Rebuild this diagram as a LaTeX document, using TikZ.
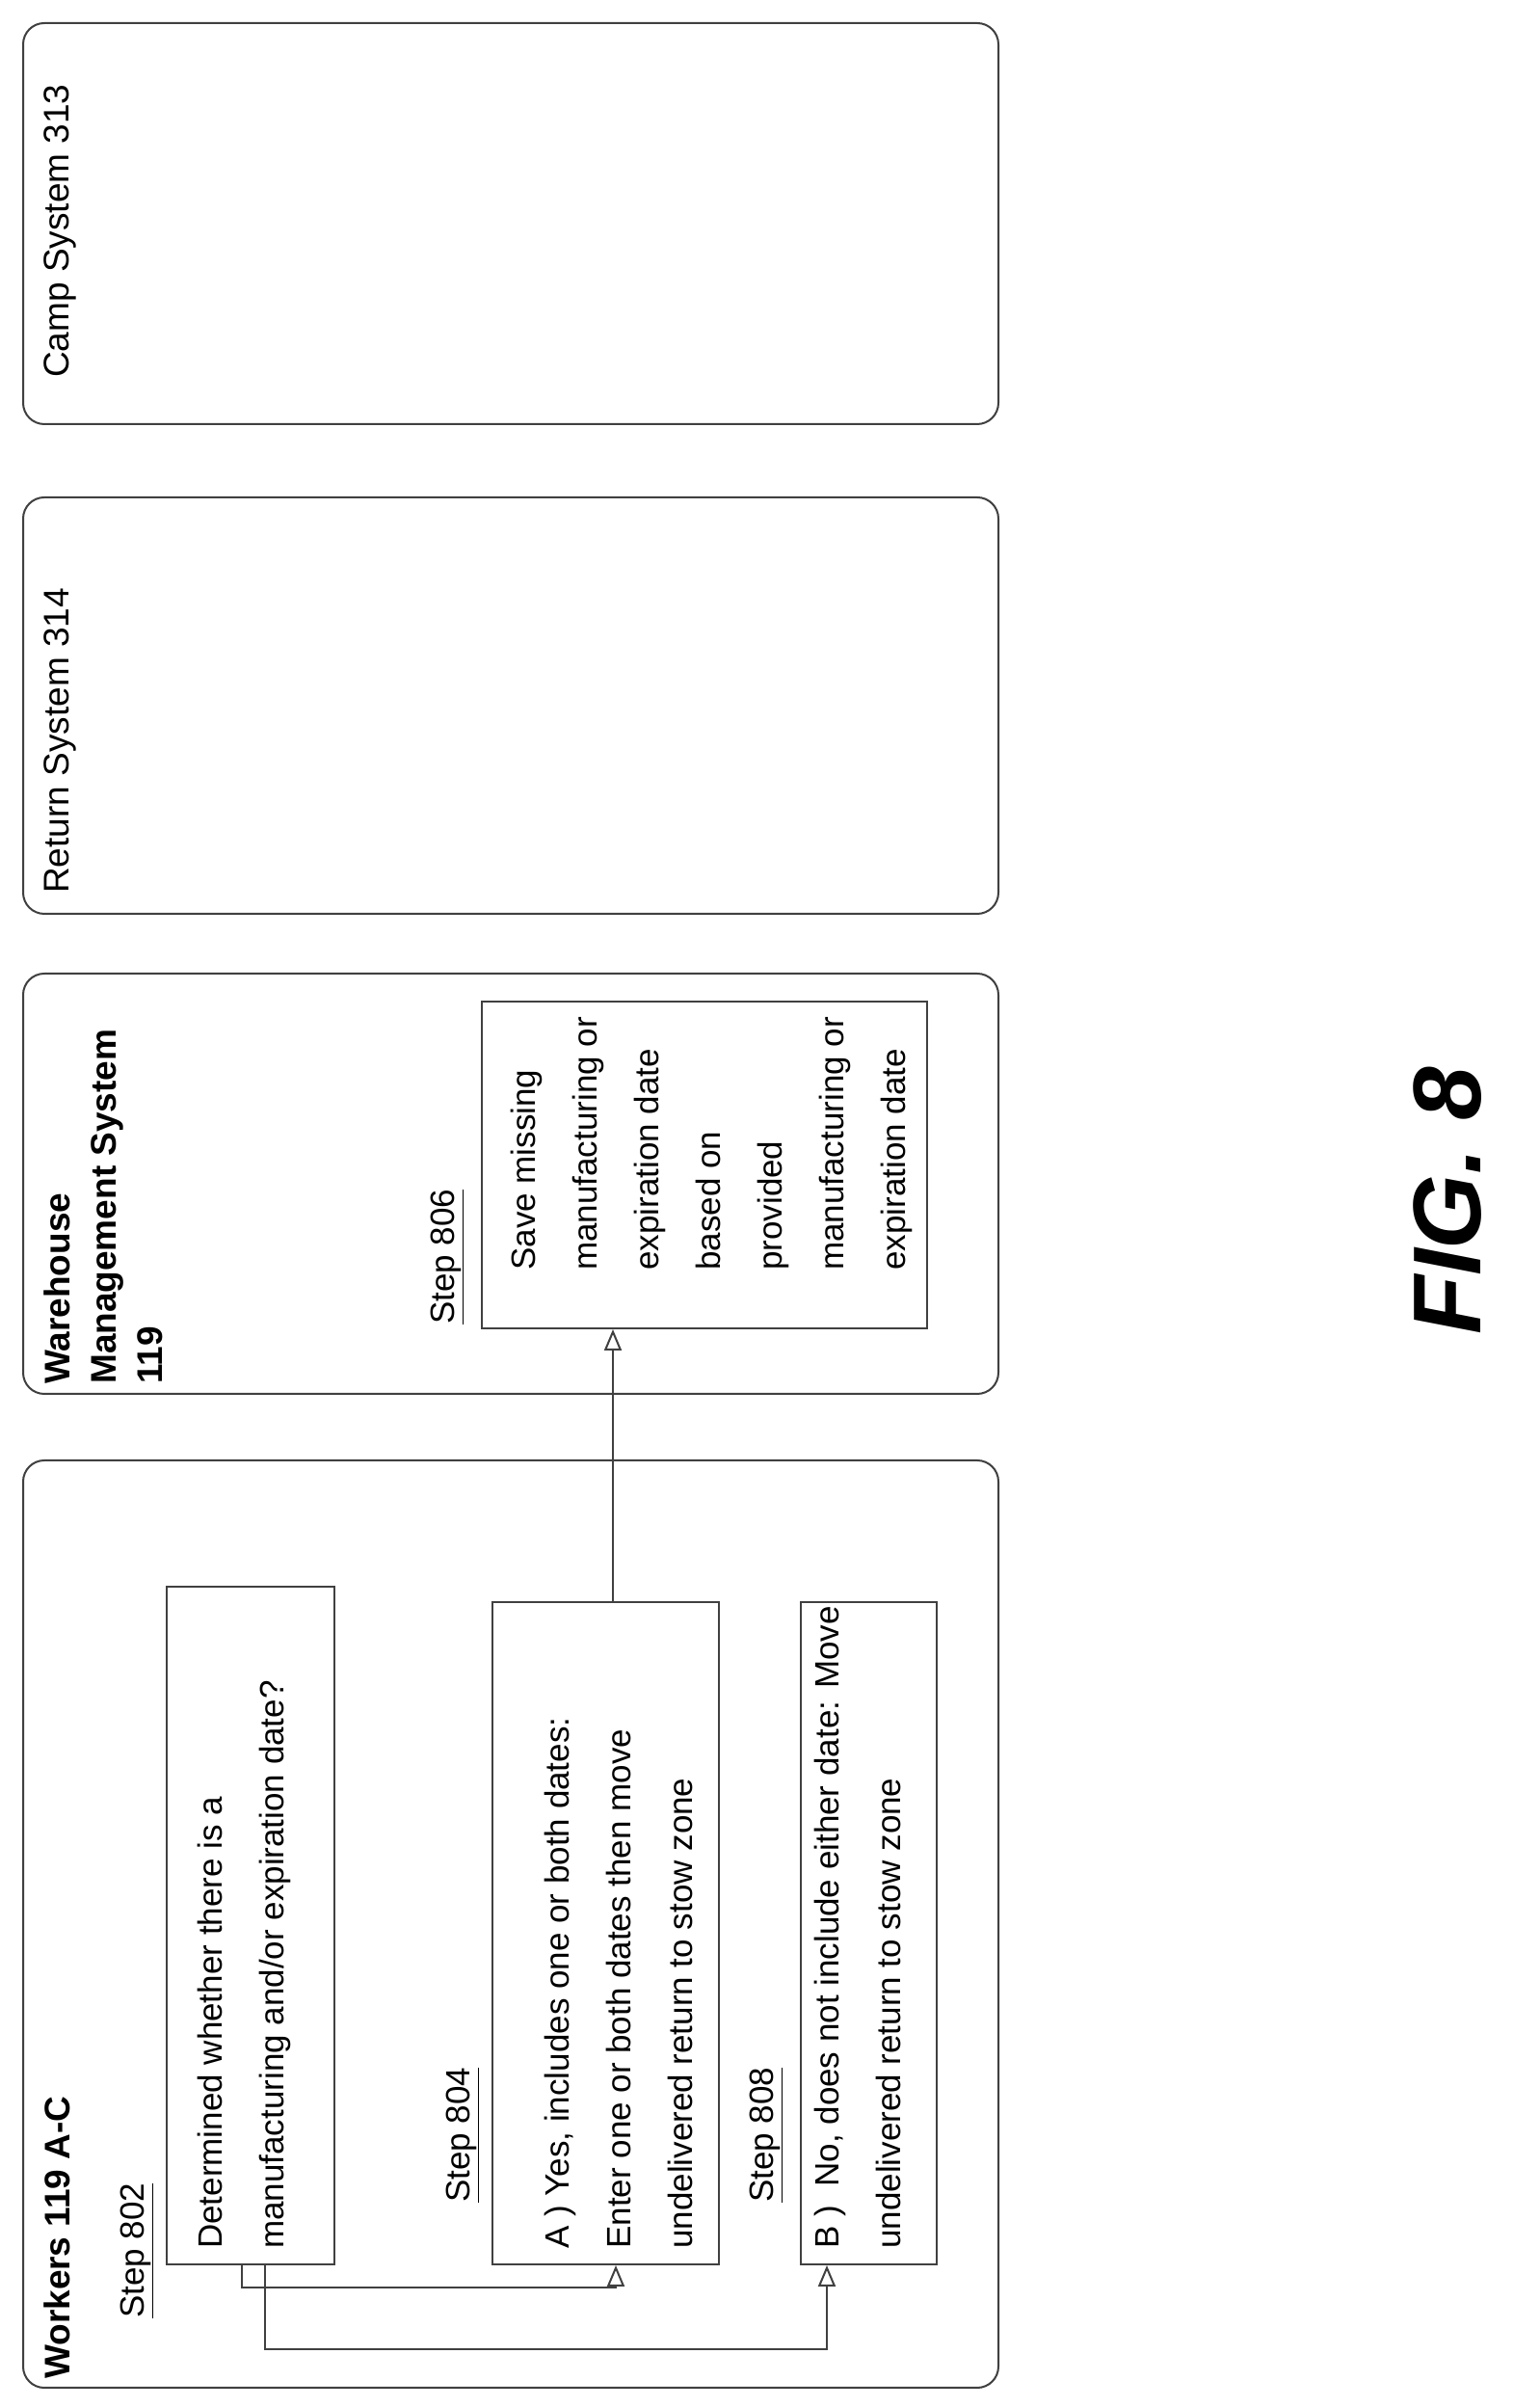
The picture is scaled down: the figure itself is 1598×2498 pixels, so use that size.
\documentclass[tikz,border=0pt]{standalone}
\usepackage{fontspec}
\setmainfont{Liberation Sans}
\usetikzlibrary{arrows.meta}
\begin{document}
\begin{tikzpicture}[x=1pt,y=1pt,
  lane/.style={draw=black!75,line width=2pt,rounded corners=22pt},
  box/.style={draw=black!75,line width=2pt},
  txt/.style={rotate=90,anchor=north west,inner sep=0pt,align=left,font=\fontsize{35}{64}\selectfont},
  ttl/.style={rotate=90,anchor=north west,inner sep=0pt,align=left,font=\fontsize{37}{48}\selectfont},
  lbl/.style={rotate=90,anchor=north west,inner sep=0pt,font=\fontsize{35}{44}\selectfont},
  conn/.style={draw=black!75,line width=2pt,-{Triangle[open,length=22pt,width=18pt,line width=2pt]}}]
\useasboundingbox (0,0) rectangle (1598,2498);
\fill[white] (0,0) rectangle (1598,2498);
% lanes
\draw[lane] (24,2058) rectangle (1036,2474);
\draw[lane] (24,1550) rectangle (1036,1982);
\draw[lane] (24,1052) rectangle (1036,1488);
\draw[lane] (24,21) rectangle (1036,983);
\node[ttl] (tcamp) at (45,2106) {Camp System 313};
\node[ttl] (tret) at (45,1571) {Return System 314};
\node[ttl,font=\bfseries\fontsize{37}{48}\selectfont] (twms) at (45,1062) {Warehouse\\Management System\\119};
\node[ttl,font=\bfseries\fontsize{37}{48}\selectfont] (twork) at (45,30) {Workers 119 A-C};
% boxes
\node[box,minimum width=462pt,minimum height=339pt,inner sep=0pt] (b806) at (731,1289.5) {};
\node[box,minimum width=174pt,minimum height=703pt,inner sep=0pt] (b802) at (260,500.5) {};
\node[box,minimum width=235pt,minimum height=687pt,inner sep=0pt] (b804) at (628.5,492.5) {};
\node[box,minimum width=141pt,minimum height=687pt,inner sep=0pt] (b808) at (901.5,492.5) {};
% labels
\node[lbl] (l806) at (447,1124) {\underline{Step 806}};
\node[lbl] (l802) at (125,93) {\underline{Step 802}};
\node[lbl] (l804) at (463,213) {\underline{Step 804}};
\node[lbl] (l808) at (778,213) {\underline{Step 808}};
% texts
\node[txt] (x806) at (530,1180) {Save missing\\manufacturing or\\expiration date\\based on\\provided\\manufacturing or\\expiration date};
\node[txt] (x802) at (205,165) {Determined whether there is a\\manufacturing and/or expiration date?};
\node[txt] (x804) at (565,165) {A ) Yes, includes one or both dates:\\Enter one or both dates then move\\undelivered return to stow zone};
\node[txt] (x808) at (845,165) {B )\ \ No, does not include either date: Move\\undelivered return to stow zone};
% connectors
\coordinate (c1) at (251,125);
\coordinate (c2) at (275,61);
\draw[conn] (b804.north -| 636,0) -- (b806.south -| 636,0);
\draw[conn] (b802.south -| c1) -- (c1) -| (b804.south -| 639,0);
\draw[conn] (b802.south -| c2) -- (c2) -| (b808.south -| 858,0);
% figure label
\node[rotate=90,font=\bfseries\itshape\fontsize{100}{120}\selectfont] (fig) at (1502,1252) {FIG. 8};
\end{tikzpicture}
\end{document}
